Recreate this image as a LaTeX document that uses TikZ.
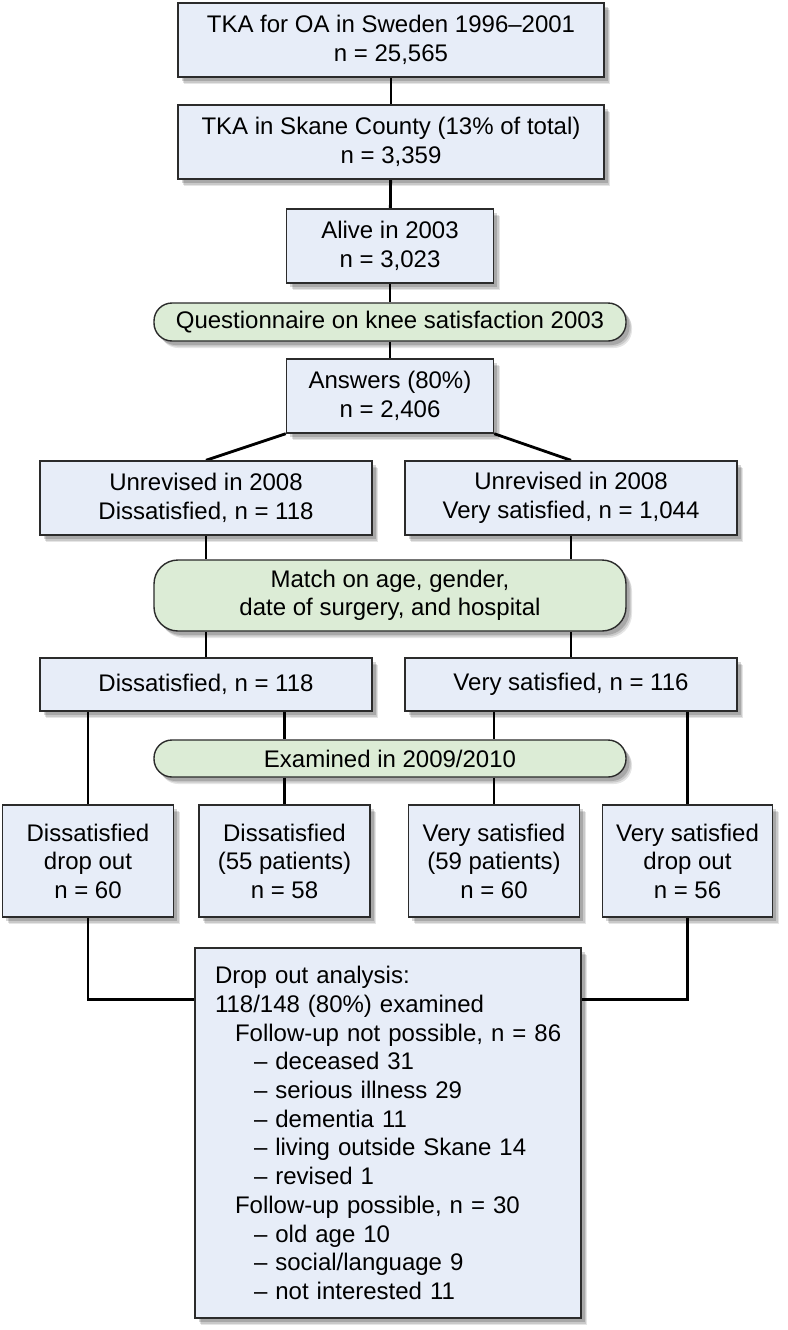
\documentclass[tikz,border=0pt]{standalone}
\usepackage{fontspec}
\setmainfont{Liberation Sans}
\usetikzlibrary{shadows,calc}
\definecolor{boxfill}{HTML}{E7EDF8}
\definecolor{pillfill}{HTML}{DCECD6}
\definecolor{edge}{HTML}{2B2B2B}
\pgfdeclarelayer{background}
\pgfdeclarelayer{paper}
\pgfsetlayers{paper,background,main}
\tikzset{
  base/.style={draw=edge, line width=1.4pt, inner sep=0pt, align=center,
    font=\fontsize{24}{28.5}\selectfont,
    drop shadow={shadow xshift=6pt, shadow yshift=-7pt, opacity=0.10, fill=black},
    drop shadow={shadow xshift=5pt, shadow yshift=-5.5pt, opacity=0.12, fill=black},
    drop shadow={shadow xshift=3.5pt, shadow yshift=-4pt, opacity=0.16, fill=black}},
  box/.style={base, fill=boxfill},
  pill/.style={base, fill=pillfill, rounded corners=18pt},
  conn/.style={line width=2.8pt, black}
}
\begin{document}
\begin{tikzpicture}[x=1pt,y=-1pt]
\begin{pgfonlayer}{paper}
\fill[white] (0,0) rectangle (787,1330);
\end{pgfonlayer}
\useasboundingbox (0,0) rectangle (787,1330);

\node[box, minimum width=426pt, minimum height=74pt] (b1) at (391,40) {TKA for OA in Sweden 1996–2001\\n = 25,565};
\node[box, minimum width=426pt, minimum height=74pt] (b2) at (391,142) {TKA in Skane County (13\% of total)\\n = 3,359};
\node[box, minimum width=207pt, minimum height=74pt] (b3) at (390,246) {Alive in 2003\\n = 3,023};
\node[pill, minimum width=472pt, minimum height=38pt] (q) at (390,322) {Questionnaire on knee satisfaction 2003};
\node[box, minimum width=207pt, minimum height=74pt] (ans) at (390,396) {Answers (80\%)\\n = 2,406};
\node[box, minimum width=332pt, minimum height=74pt] (ul) at (206,498) {Unrevised in 2008\\Dissatisfied, n = 118};
\node[box, minimum width=332pt, minimum height=74pt] (ur) at (571,498) {Unrevised in 2008\\Very satisfied, n = 1,044};
\node[pill, rounded corners=24pt, minimum width=472pt, minimum height=71pt] (match) at (390,595.5) {Match on age, gender,\\date of surgery, and hospital};
\node[box, minimum width=332pt, minimum height=53pt] (d118) at (206,684.5) {Dissatisfied, n = 118};
\node[box, minimum width=332pt, minimum height=53pt] (v116) at (571,684.5) {Very satisfied, n = 116};
\node[pill, minimum width=472pt, minimum height=37pt] (exam) at (390,758.5) {Examined in 2009/2010};
\node[box, minimum width=171pt, minimum height=112pt] (A) at (88,861) {Dissatisfied\\drop out\\n = 60};
\node[box, minimum width=171pt, minimum height=112pt] (B) at (284.5,861) {Dissatisfied\\(55 patients)\\n = 58};
\node[box, minimum width=171pt, minimum height=112pt] (C) at (494,861) {Very satisfied\\(59 patients)\\n = 60};
\node[box, minimum width=170pt, minimum height=112pt] (D) at (687.5,861) {Very satisfied\\drop out\\n = 56};
\node[box, minimum width=386pt, minimum height=370pt, text width=346pt, inner xsep=20pt, align=left,
  font=\fontsize{24}{28.7}\selectfont] (drop) at (388,1133) {Drop out analysis:\\
118/148 (80\%) examined\\
\hspace*{20pt}\mbox{Follow-up not possible, n = 86}\\
\hspace*{39pt}– deceased 31\\
\hspace*{39pt}– serious illness 29\\
\hspace*{39pt}– dementia 11\\
\hspace*{39pt}– living outside Skane 14\\
\hspace*{39pt}– revised 1\\
\hspace*{20pt}Follow-up possible, n = 30\\
\hspace*{39pt}– old age 10\\
\hspace*{39pt}– social/language 9\\
\hspace*{39pt}– not interested 11};

\coordinate (jl) at ($(drop.north west)+(0,52)$);
\coordinate (jr) at ($(drop.north east)+(0,52)$);

\begin{pgfonlayer}{background}
\draw[conn] (b1) -- (b2);
\draw[conn] (b2) -- (b3);
\draw[conn] (b3) -- (q);
\draw[conn] (q) -- (ans);
\draw[conn] (ans.south west) -- (ul.north);
\draw[conn] (ans.south east) -- (ur.north);
\draw[conn] (ul.south) -- (ul.south |- match.north);
\draw[conn] (ur.south) -- (ur.south |- match.north);
\draw[conn] (match.south -| d118) -- (d118.north);
\draw[conn] (match.south -| v116) -- (v116.north);
\draw[conn] (d118.south -| A) -- (A.north);
\draw[conn] (d118.south -| B) -- (exam.north -| B);
\draw[conn] (exam.south -| B) -- (B.north);
\draw[conn] (v116.south -| C) -- (exam.north -| C);
\draw[conn] (exam.south -| C) -- (C.north);
\draw[conn] (v116.south -| D) -- (D.north);
\draw[conn] (A.south) |- (jl);
\draw[conn] (D.south) |- (jr);
\end{pgfonlayer}
\end{tikzpicture}
\end{document}
